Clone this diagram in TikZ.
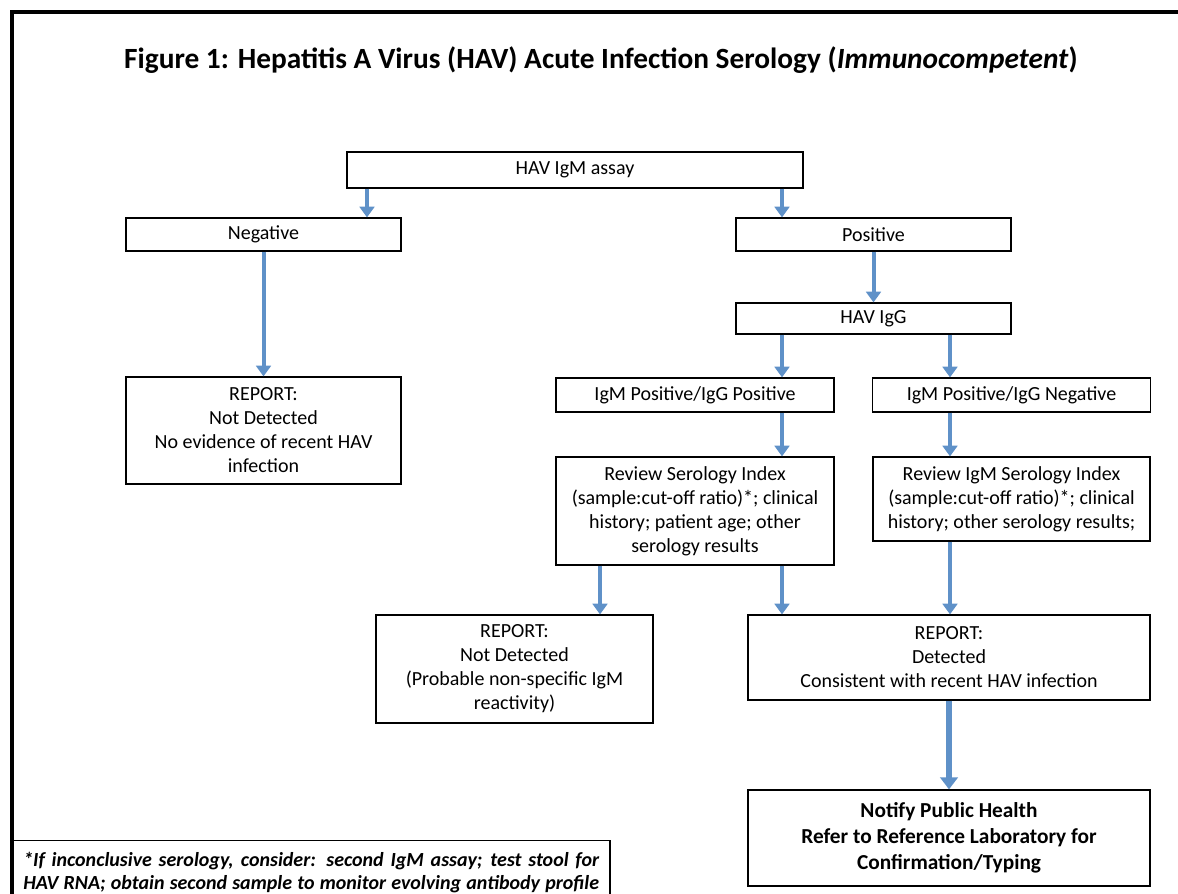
\documentclass[tikz,border=0pt]{standalone}
\usepackage{fontspec}
\setmainfont{Carlito}
\usetikzlibrary{arrows.meta}
\definecolor{arrowblue}{RGB}{95,145,200}
\begin{document}
\begin{tikzpicture}[x=0.75pt,y=-0.75pt,
	box/.style={draw, line width=0.9pt, align=center, inner sep=0pt, font=\fontsize{15}{18}\selectfont},
	flow/.style={draw=arrowblue, line width=3pt, -{Triangle[width=11pt,length=8pt]}},
	bigflow/.style={draw=arrowblue, line width=5pt, -{Triangle[width=13pt,length=9pt]}}]
	\useasboundingbox (0,0) rectangle (1178,893);
	\draw[line width=2.5pt] (12,900) -- (12,12) -- (1190,12);
	\node[font=\fontsize{22}{26}\selectfont\bfseries] (title) at (601,60) {Figure 1: Hepatitis A Virus (HAV) Acute Infection Serology (\textit{Immunocompetent})};
	\node[box, minimum width=342pt, minimum height=27pt]		(0)	at (575,170)	{HAV IgM assay};
	\node[box, minimum width=206.25pt, minimum height=24.75pt]	(1)	at (263.5,234.5)	{Negative};
	\node[box, minimum width=206.25pt, minimum height=24.75pt]	(2)	at (873.5,234.5)	{Positive};
	\node[box, minimum width=206.25pt, minimum height=23.25pt]	(3)	at (873.5,318.5)	{HAV IgG};
	\node[box, minimum width=206.25pt, minimum height=80.25pt]	(4)	at (263.5,430.5)	{REPORT:\\Not Detected\\No evidence of recent HAV\\infection};
	\node[box, minimum width=208.5pt, minimum height=25.5pt]	(5)	at (695,395)	{IgM Positive/IgG Positive};
	\node[box, minimum width=208.5pt, minimum height=25.5pt]	(6)	at (1011.5,395)	{IgM Positive/IgG Negative};
	\node[box, minimum width=208.5pt, minimum height=81pt]		(7)	at (695,511)	{Review Serology Index\\(sample:cut-off ratio)*; clinical\\history; patient age; other\\serology results};
	\node[box, minimum width=207.75pt, minimum height=63pt]	(8)	at (1011.5,499)	{Review IgM Serology Index\\(sample:cut-off ratio)*; clinical\\history; other serology results;};
	\node[box, minimum width=207.75pt, minimum height=81pt]	(9)	at (514.5,669)	{REPORT:\\Not Detected\\(Probable non-specific IgM\\reactivity)};
	\node[box, minimum width=301.5pt, minimum height=63.75pt]	(10)	at (949,657.5)	{REPORT:\\Detected\\Consistent with recent HAV infection};
	\node[box, minimum width=301.5pt, minimum height=72pt, font=\fontsize{16}{19.5}\selectfont\bfseries]	(11)	at (949,838)	{Notify Public Health\\Refer to Reference Laboratory for\\Confirmation/Typing};
	% footnote, cut off by the page edge
	\node[draw, line width=0.9pt, anchor=north west, inner xsep=8pt, inner ysep=9pt, text width=432pt, align=justify, font=\fontsize{15}{17.25}\selectfont\bfseries\itshape]	(12)	at (12,840)	{\parfillskip=0pt *If inconclusive serology, consider: second IgM assay; test stool for\linebreak HAV RNA; obtain second sample to monitor evolving antibody profile\par\vspace{6pt}};
	\draw[flow] (0.south -| 367,0) -- (1.north -| 367,0);
	\draw[flow] (0.south -| 782,0) -- (2.north -| 782,0);
	\draw[flow] (2) -- (3);
	\draw[flow] (1) -- (4);
	\draw[flow] (3.south -| 782,0) -- (5.north -| 782,0);
	\draw[flow] (3.south -| 950,0) -- (6.north -| 950,0);
	\draw[flow] (5.south -| 782,0) -- (7.north -| 782,0);
	\draw[flow] (6.south -| 950,0) -- (8.north -| 950,0);
	\draw[flow] (7.south -| 600,0) -- (9.north -| 600,0);
	\draw[flow] (7.south -| 782,0) -- (10.north -| 782,0);
	\draw[flow] (8.south -| 950,0) -- (10.north -| 950,0);
	\draw[bigflow] (10) -- (11);
\end{tikzpicture}
\end{document}
